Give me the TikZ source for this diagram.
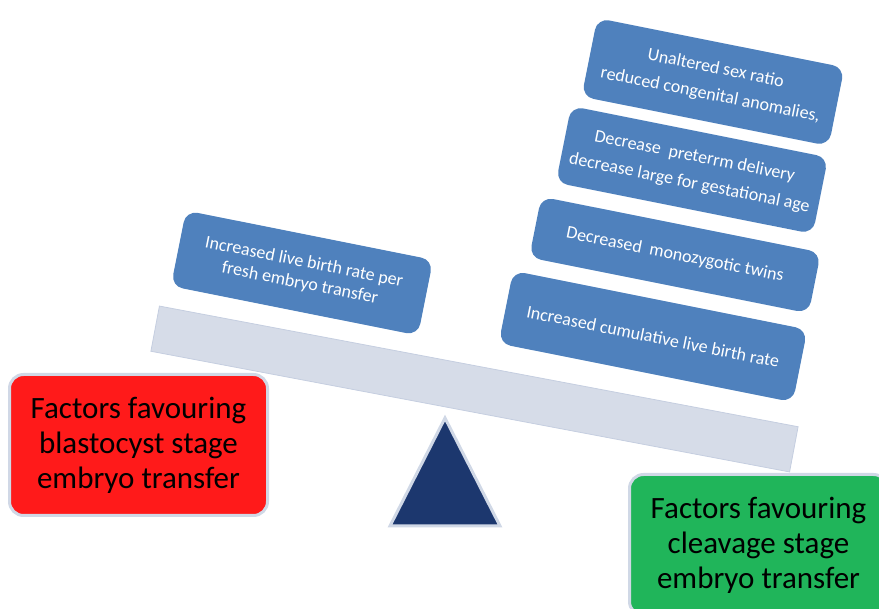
\documentclass[tikz,border=0pt]{standalone}
\usepackage{fontspec}
\setmainfont{Carlito}
\definecolor{boxblue}{HTML}{4F81BD}
\definecolor{beamfill}{HTML}{D6DCE8}
\definecolor{beamline}{HTML}{C5CEE0}
\definecolor{navy}{HTML}{1C376E}
\definecolor{rimgray}{HTML}{D0D8E6}
\definecolor{redfill}{HTML}{FF1A1A}
\definecolor{greenfill}{HTML}{20B55A}
\tikzset{
  factor/.style={rectangle, rounded corners=12pt, fill=boxblue, text=white,
    rotate=-11.3, align=center, inner sep=0pt,
    font=\fontsize{18}{21.5}\selectfont},
  sidebox/.style={rectangle, rounded corners=14pt, draw=rimgray, line width=3pt,
    minimum width=258pt, minimum height=141pt, align=center, inner sep=0pt,
    text=black, font=\fontsize{31}{35}\selectfont},
}
\begin{document}
\begin{tikzpicture}[x=1pt,y=-1pt]
\useasboundingbox (0,0) rectangle (879,609);
% beam
\node[rectangle, fill=beamfill, draw=beamline, line width=0.8pt, rotate=-10.7,
  minimum width=650pt, minimum height=46pt, inner sep=0pt] (beam) at (474.5,389) {};
% fulcrum
\draw[fill=navy, draw=rimgray, line width=3pt, line join=miter]
  (445,418) coordinate (apex) -- (390,526) coordinate (fl) -- (500,526) coordinate (fr) -- cycle;
% side boxes
\node[sidebox, fill=redfill] (blast) at (138.5,445) {Factors favouring\\blastocyst stage\\embryo transfer};
\node[sidebox, fill=greenfill] (cleav) at (758.5,545) {Factors favouring\\cleavage stage\\embryo transfer};
% blue factor boxes
\node[factor, minimum width=252pt, minimum height=77pt] (lb) at (302,273)
  {Increased live birth rate per\\fresh embryo transfer};
\node[factor, minimum width=252pt, minimum height=80pt] (r1) at (713,82)
  {Unaltered sex ratio\\[5.5pt]reduced congenital anomalies,};
\node[factor, minimum width=262pt, minimum height=78pt] (r2) at (692,170)
  {Decrease\ \ preterrm delivery\\[5.5pt]decrease large for gestational age};
\node[factor, minimum width=285pt, minimum height=62pt] (r3) at (675,255)
  {Decreased\ \ monozygotic twins};
\node[factor, minimum width=300pt, minimum height=74pt] (r4) at (653,336.5)
  {Increased cumulative live birth rate};
\end{tikzpicture}
\end{document}
